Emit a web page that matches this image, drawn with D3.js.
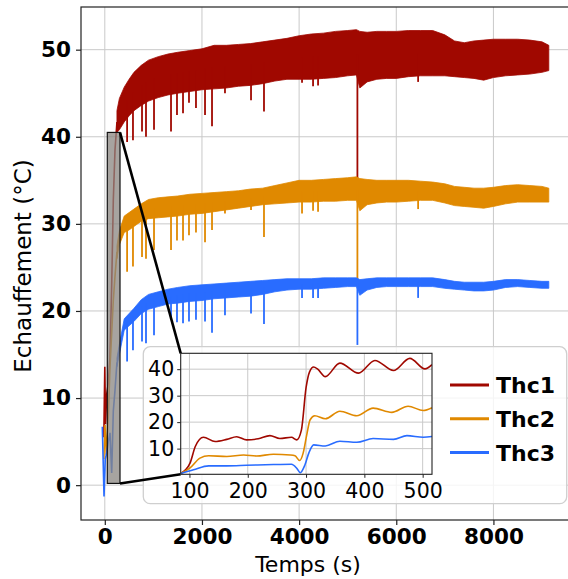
<!DOCTYPE html>
<html>
<head>
<meta charset="utf-8">
<script src="https://cdn.jsdelivr.net/npm/d3@7"></script>
<style>
    body { margin: 0; background: #fff; }
    svg { display: block; }
</style>
</head>
<body>
<div id="chart"></div>
<script>
// ---- values ----
const seriesNames = ["Thc1", "Thc2", "Thc3"];
const seriesColors = ["#a00800", "#e08900", "#296cff"];

// start-up transient (s, °C)
const thc1StartTimes = [-20, 0, 15, 40, 72, 107, 142, 175, 210, 250];
const thc1Start = [5.5, 13.6, 7.0, 10.5, 11.7, 14.7, 23.0, 32.7, 38.5, 41.7];
const thc2StartTimes = [-20, 4, 30, 72, 107, 142, 175, 210, 250];
const thc2Start = [3.0, 6.9, 3.5, 8.0, 13.6, 17.5, 21.2, 24.0, 26.8];
const thc3StartTimes = [-51, -16, 10, 39, 72, 107, 142, 175, 210, 250];
const thc3Start = [6.7, -1.3, 3.0, 3.7, 5.0, 6.0, 1.4, 8.5, 10.9, 14.1];

// noise band: lower / upper envelope of each signal
const bandTimes = [250, 300, 400, 500, 600, 750, 900, 1100, 1300, 1500, 1750, 2000, 2250, 2500, 2750,
    3000, 3250, 3500, 3750, 4000, 4250, 4500, 4750, 5000, 5180, 5250, 5400, 5600, 5800, 6000,
    6250, 6500, 6750, 7000, 7200, 7400, 7600, 7800, 8000, 8250, 8500, 8750, 9000, 9140];
const thc1Upper = [43.0, 44.4, 45.7, 46.6, 47.4, 48.2, 48.8, 49.2, 49.5, 49.7, 49.9, 50.1, 50.5, 50.5, 50.6,
    50.7, 50.9, 51.1, 51.3, 51.6, 51.8, 51.9, 52.1, 52.2, 52.3, 52.1, 52.0, 52.1, 52.1, 52.1,
    52.2, 52.2, 52.2, 51.7, 51.0, 50.8, 51.0, 51.1, 51.2, 51.2, 51.2, 51.1, 50.9, 50.5];
const thc1Lower = [40.5, 40.8, 41.7, 42.4, 43.0, 43.6, 44.1, 44.5, 44.8, 45.0, 45.2, 45.4, 45.5, 45.6, 45.8,
    45.9, 46.1, 46.4, 46.6, 46.6, 46.6, 46.7, 46.8, 47.0, 47.1, 45.6, 46.3, 46.6, 46.7, 46.7,
    46.9, 47.0, 47.0, 47.0, 46.9, 46.8, 46.7, 46.5, 46.8, 47.0, 47.1, 47.2, 47.4, 47.6];
const thc2Upper = [27.5, 29.2, 30.9, 31.3, 31.7, 32.3, 32.8, 33.0, 33.1, 33.2, 33.4, 33.5, 33.6, 33.7, 33.8,
    34.0, 34.1, 34.4, 34.7, 35.0, 35.0, 35.1, 35.2, 35.3, 35.4, 35.2, 35.1, 35.0, 35.0, 35.0,
    35.0, 34.9, 34.8, 34.6, 34.3, 34.2, 34.1, 34.1, 34.2, 34.4, 34.5, 34.4, 34.3, 34.1];
const thc2Lower = [26.0, 27.6, 29.0, 29.3, 29.7, 30.3, 30.6, 30.7, 30.8, 30.9, 31.1, 31.2, 31.4, 31.6, 31.8,
    32.0, 32.2, 32.3, 32.4, 32.5, 32.5, 32.6, 32.6, 32.7, 32.7, 31.5, 32.2, 32.4, 32.5, 32.5,
    32.6, 32.7, 32.7, 32.4, 32.1, 32.0, 31.9, 31.8, 32.0, 32.3, 32.5, 32.5, 32.5, 32.5];
const thc3Upper = [14.6, 16.2, 19.1, 19.7, 20.3, 21.3, 21.9, 22.2, 22.5, 22.7, 22.9, 23.0, 23.1, 23.2, 23.3,
    23.4, 23.5, 23.6, 23.7, 23.7, 23.7, 23.8, 23.8, 23.8, 23.8, 23.6, 23.7, 23.8, 23.8, 23.8,
    23.8, 23.8, 23.8, 23.6, 23.4, 23.3, 23.3, 23.3, 23.4, 23.6, 23.6, 23.5, 23.4, 23.4];
const thc3Lower = [13.6, 15.0, 17.8, 18.3, 18.8, 19.7, 20.2, 20.5, 20.8, 20.9, 21.1, 21.2, 21.4, 21.5, 21.6,
    21.7, 21.9, 22.2, 22.4, 22.5, 22.5, 22.6, 22.7, 22.8, 22.8, 21.8, 22.4, 22.7, 22.8, 22.8,
    22.8, 22.8, 22.8, 22.6, 22.5, 22.4, 22.3, 22.3, 22.4, 22.7, 22.8, 22.7, 22.6, 22.6];

// downward dips (time, lowest value reached)
const spikeTimes = [459, 580, 766, 848, 1013, 1363, 1486, 1610, 1733, 1877, 2063, 2207, 2474, 3010, 3277,
    4060, 4287, 4390, 5200, 6450];
const thc1Spikes = [39.4, 39.6, 40.6, 40.0, 40.8, 40.6, 42.5, 42.7, 43.9, 43.3, 42.5, 41.2, 45.0, 44.2, 42.9,
    46.2, 45.8, 45.9, 34.6, 46.3];
const thc2Spikes = [24.5, 25.1, 26.2, 26.0, 27.0, 27.0, 28.1, 28.1, 28.7, 29.0, 27.9, 29.3, 31.2, 31.6, 28.5,
    31.2, 31.5, 31.4, 22.8, 31.7];
const thc3Spikes = [14.2, 15.5, 16.5, 16.3, 17.2, 19.0, 18.7, 18.6, 18.8, 19.0, 18.8, 17.5, 19.5, 19.7, 18.5,
    21.5, 21.5, 21.5, 16.1, 21.5];

// zoomed view, 85 - 516 s
const insetThc1Times = [85, 101, 110, 124, 144, 164, 181, 198, 218, 238, 255, 275, 284, 292, 300, 306, 313, 320, 333, 358, 390, 418, 450, 478, 504, 516];
const insetThc1 = [0.6, 4.5, 10.8, 14.3, 12.7, 13.5, 14.5, 13.3, 13.7, 14.9, 13.8, 14.3, 13.3, 17.0, 33.0, 39.0, 40.8, 40.0, 37.2, 42.3, 38.5, 43.3, 39.5, 44.1, 40.1, 41.7];
const insetThc2Times = [85, 100, 118, 133, 164, 193, 215, 244, 273, 281, 289, 295, 301, 307, 315, 333, 358, 387, 415, 447, 475, 501, 516];
const insetThc2 = [0.6, 2.5, 6.4, 7.3, 7.0, 7.6, 7.2, 7.9, 7.6, 7.3, 5.5, 8.3, 15.0, 20.9, 22.4, 21.3, 24.1, 22.4, 25.3, 23.7, 26.0, 24.4, 25.4];
const insetThc3Times = [85, 107, 133, 164, 198, 244, 275, 284, 290, 298, 305, 313, 333, 358, 387, 415, 450, 473, 501, 516];
const insetThc3 = [0.6, 2.0, 3.5, 3.5, 3.7, 4.0, 4.1, 2.6, 0.9, 3.8, 8.5, 11.4, 11.0, 12.8, 12.4, 13.8, 13.5, 14.9, 14.3, 14.6];

// area marked on the main plot [t0, t1, v0, v1]
const zoomBox = [51, 313, 0.2, 40.5];

const xTicks = [0, 2000, 4000, 6000, 8000];
const yTicks = [0, 10, 20, 30, 40, 50];
const insetXTicks = [100, 200, 300, 400, 500];
const insetYTicks = [10, 20, 30, 40];


class Heating_Chart {
    constructor(parent_element) {
        this.parent_element = parent_element;
        this.width = 568;
        this.height = 579;
        this.initVis();
    }

    initVis() {
        this.svg = d3.select("#" + this.parent_element)
            .append("svg")
            .attr("width", this.width)
            .attr("height", this.height)
            .style("font-family", "'DejaVu Sans', sans-serif");

        // main axes box (right spine falls just outside the picture)
        this.box = {left: 81, right: 571, top: 7, bottom: 520};
        this.x = d3.scaleLinear().domain([-490, 9597]).range([this.box.left, this.box.right]);
        this.y = d3.scaleLinear().domain([-4.0, 54.9]).range([this.box.bottom, this.box.top]);

        // inset axes box
        this.ibox = {left: 180.7, right: 432, top: 353.3, bottom: 474.3};
        this.ix = d3.scaleLinear().domain([85, 516]).range([this.ibox.left, this.ibox.right]);
        this.iy = d3.scaleLinear().domain([0.3, 46]).range([this.ibox.bottom, this.ibox.top]);

        this.svg.append("clipPath").attr("id", "main-clip")
            .append("rect")
            .attr("x", this.box.left).attr("y", this.box.top)
            .attr("width", this.box.right - this.box.left)
            .attr("height", this.box.bottom - this.box.top);

        this.svg.append("clipPath").attr("id", "inset-clip")
            .append("rect")
            .attr("x", this.ibox.left).attr("y", this.ibox.top)
            .attr("width", this.ibox.right - this.ibox.left)
            .attr("height", this.ibox.bottom - this.ibox.top);

        this.wrangleData();
    }

    wrangleData() {
        const startTimes = [thc1StartTimes, thc2StartTimes, thc3StartTimes];
        const starts = [thc1Start, thc2Start, thc3Start];
        const uppers = [thc1Upper, thc2Upper, thc3Upper];
        const lowers = [thc1Lower, thc2Lower, thc3Lower];
        const spikes = [thc1Spikes, thc2Spikes, thc3Spikes];
        const insetTimes = [insetThc1Times, insetThc2Times, insetThc3Times];
        const insets = [insetThc1, insetThc2, insetThc3];

        this.series = seriesNames.map((name, i) => {
            // band middle, used as the root of each dip
            const mid = d3.scaleLinear()
                .domain(bandTimes)
                .range(bandTimes.map((t, j) => (lowers[i][j] + uppers[i][j]) / 2));
            return {
                name: name,
                color: seriesColors[i],
                start: startTimes[i].map((t, j) => ({t: t, v: starts[i][j]})),
                band: bandTimes.map((t, j) => ({t: t, lo: lowers[i][j], hi: uppers[i][j]})),
                spikes: spikeTimes.map((t, j) => ({t: t, v: spikes[i][j], root: mid(t)})),
                inset: insetTimes[i].map((t, j) => ({t: t, v: insets[i][j]}))
            };
        });

        this.updateVis();
    }

    updateVis() {
        const x = this.x, y = this.y, ix = this.ix, iy = this.iy;

        // grid
        const grid = this.svg.append("g").attr("stroke", "#c9c9c9").attr("stroke-width", 1);
        grid.selectAll(".gx").data(xTicks).join("line")
            .attr("x1", d => x(d)).attr("x2", d => x(d))
            .attr("y1", this.box.top).attr("y2", this.box.bottom);
        grid.selectAll(".gy").data(yTicks).join("line")
            .attr("x1", this.box.left).attr("x2", this.box.right)
            .attr("y1", d => y(d)).attr("y2", d => y(d));

        // signals
        const plot = this.svg.append("g").attr("clip-path", "url(#main-clip)");

        const area = d3.area()
            .x(d => x(d.t))
            .y0(d => y(d.lo))
            .y1(d => y(d.hi));
        const line = d3.line()
            .x(d => x(d.t))
            .y(d => y(d.v));

        this.series.forEach(s => {
            const g = plot.append("g");
            g.append("path")
                .datum(s.band)
                .attr("d", area)
                .attr("fill", s.color)
                .attr("stroke", s.color)
                .attr("stroke-width", 0.8);
            g.append("path")
                .datum(s.start)
                .attr("d", line)
                .attr("fill", "none")
                .attr("stroke", s.color)
                .attr("stroke-width", 1.6);
            g.selectAll("line")
                .data(s.spikes)
                .join("line")
                .attr("x1", d => x(d.t)).attr("x2", d => x(d.t))
                .attr("y1", d => y(d.root)).attr("y2", d => y(d.v))
                .attr("stroke", s.color)
                .attr("stroke-width", 1.8);
        });

        // marked zoom region
        this.svg.append("rect")
            .attr("x", x(zoomBox[0]))
            .attr("y", y(zoomBox[3]))
            .attr("width", x(zoomBox[1]) - x(zoomBox[0]))
            .attr("height", y(zoomBox[2]) - y(zoomBox[3]))
            .attr("fill", "#8a8580")
            .attr("fill-opacity", 0.75)
            .attr("stroke", "#111")
            .attr("stroke-width", 1.2);

        // spines
        this.svg.append("rect")
            .attr("x", this.box.left).attr("y", this.box.top)
            .attr("width", this.box.right - this.box.left)
            .attr("height", this.box.bottom - this.box.top)
            .attr("fill", "none")
            .attr("stroke", "#222")
            .attr("stroke-width", 1.2);

        // main axes
        const xAxis = this.svg.append("g")
            .attr("transform", "translate(0," + this.box.bottom + ")")
            .call(d3.axisBottom(x).tickValues(xTicks).tickSize(5).tickPadding(4).tickFormat(d3.format("d")));
        const yAxis = this.svg.append("g")
            .attr("transform", "translate(" + this.box.left + ",0)")
            .call(d3.axisLeft(y).tickValues(yTicks).tickSize(5).tickPadding(5).tickFormat(d3.format("d")));
        [xAxis, yAxis].forEach(a => {
            a.select(".domain").remove();
            a.selectAll(".tick line").attr("stroke", "#222").attr("stroke-width", 1.2);
            a.selectAll("text")
                .attr("fill", "#000")
                .attr("font-family", "'DejaVu Sans', sans-serif")
                .attr("font-weight", "bold")
                .attr("font-size", "21.5px");
        });

        // axis titles
        this.svg.append("text")
            .attr("x", 308)
            .attr("y", 571.5)
            .attr("text-anchor", "middle")
            .attr("font-size", "22px")
            .text("Temps (s)");
        this.svg.append("text")
            .attr("transform", "translate(30.5,266) rotate(-90)")
            .attr("text-anchor", "middle")
            .attr("font-size", "23px")
            .text("Echauffement (°C)");

        // legend frame (holds the inset too)
        this.svg.append("rect")
            .attr("x", 143.3).attr("y", 346.7)
            .attr("width", 423.4).attr("height", 157)
            .attr("rx", 7)
            .attr("fill", "#fff")
            .attr("fill-opacity", 0.8)
            .attr("stroke", "#cfcfcf")
            .attr("stroke-width", 1.3);

        // connectors from marked region to inset
        const connectors = [
            [x(zoomBox[1]), y(zoomBox[3]), this.ibox.left, this.ibox.top],
            [x(zoomBox[1]), y(zoomBox[2]), this.ibox.left, this.ibox.bottom]
        ];
        this.svg.selectAll(".connector")
            .data(connectors)
            .join("line")
            .attr("x1", d => d[0]).attr("y1", d => d[1])
            .attr("x2", d => d[2]).attr("y2", d => d[3])
            .attr("stroke", "#000")
            .attr("stroke-width", 2.6);

        // inset
        const inset = this.svg.append("g");
        inset.append("rect")
            .attr("x", this.ibox.left).attr("y", this.ibox.top)
            .attr("width", this.ibox.right - this.ibox.left)
            .attr("height", this.ibox.bottom - this.ibox.top)
            .attr("fill", "#fff");

        const igrid = inset.append("g").attr("stroke", "#c9c9c9").attr("stroke-width", 1);
        igrid.selectAll(".gx").data(insetXTicks).join("line")
            .attr("x1", d => ix(d)).attr("x2", d => ix(d))
            .attr("y1", this.ibox.top).attr("y2", this.ibox.bottom);
        igrid.selectAll(".gy").data(insetYTicks).join("line")
            .attr("x1", this.ibox.left).attr("x2", this.ibox.right)
            .attr("y1", d => iy(d)).attr("y2", d => iy(d));

        const iline = d3.line()
            .x(d => ix(d.t))
            .y(d => iy(d.v))
            .curve(d3.curveMonotoneX);
        inset.append("g")
            .attr("clip-path", "url(#inset-clip)")
            .selectAll("path")
            .data(this.series)
            .join("path")
            .attr("d", d => iline(d.inset))
            .attr("fill", "none")
            .attr("stroke", d => d.color)
            .attr("stroke-width", 1.6);

        inset.append("rect")
            .attr("x", this.ibox.left).attr("y", this.ibox.top)
            .attr("width", this.ibox.right - this.ibox.left)
            .attr("height", this.ibox.bottom - this.ibox.top)
            .attr("fill", "none")
            .attr("stroke", "#222")
            .attr("stroke-width", 1.1);

        const ixAxis = inset.append("g")
            .attr("transform", "translate(0," + this.ibox.bottom + ")")
            .call(d3.axisBottom(ix).tickValues(insetXTicks).tickSize(3.5).tickPadding(6));
        const iyAxis = inset.append("g")
            .attr("transform", "translate(" + this.ibox.left + ",0)")
            .call(d3.axisLeft(iy).tickValues(insetYTicks).tickSize(3.5).tickPadding(3));
        [ixAxis, iyAxis].forEach(a => {
            a.select(".domain").remove();
            a.selectAll(".tick line").attr("stroke", "#222");
            a.selectAll("text")
                .attr("fill", "#000")
                .attr("font-family", "'DejaVu Sans', sans-serif")
                .attr("font-size", "20.5px");
        });

        // legend entries
        const legend = this.svg.append("g")
            .selectAll("g")
            .data(this.series)
            .join("g")
            .attr("transform", (d, i) => "translate(0," + (385 + 33.8 * i) + ")");
        legend.append("line")
            .attr("x1", 450).attr("x2", 489)
            .attr("stroke", d => d.color)
            .attr("stroke-width", 3);
        legend.append("text")
            .attr("x", 496)
            .attr("dy", "0.36em")
            .attr("font-weight", "bold")
            .attr("font-size", "22px")
            .text(d => d.name);
    }
}

new Heating_Chart("chart");
</script>
</body>
</html>
